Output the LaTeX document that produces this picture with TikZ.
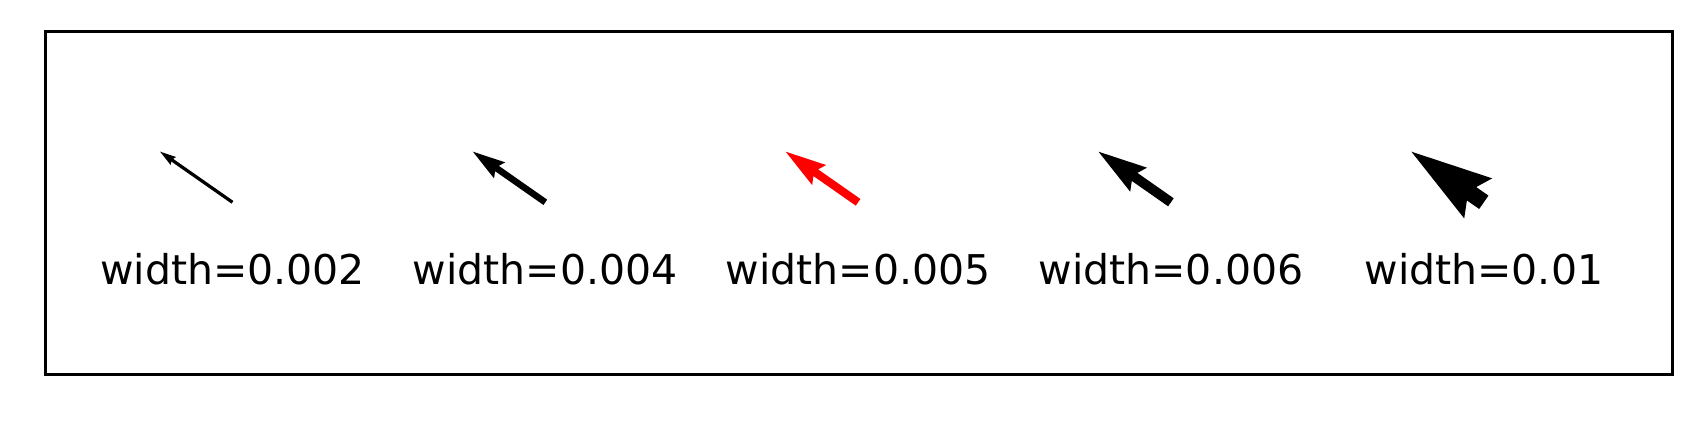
\documentclass[tikz,border=0pt]{standalone}
\usepackage{fontspec}
\setmainfont{DejaVu Sans}
\begin{document}
\begin{tikzpicture}[x=0.5pt,y=-0.5pt,
  label/.style={anchor=base,inner sep=0pt,font=\fontsize{20.5}{24}\selectfont},
  frame/.style={draw=black,line width=1.5pt}]
\useasboundingbox (0,0) rectangle (1702,421);
\fill[white] (0,0) rectangle (1702,421);
\draw[frame] (45.5,31.5) rectangle (1672,375);
% quiver arrow: #1 tail x, #2 shaft width px, #3 colour, #4 name
\newcommand{\qarrow}[4]{%
  \coordinate (#4) at (#1,202.3);
  \begin{scope}[shift={(#4)},x={(-0.40985pt,0.28645pt)},y={(0.28645pt,0.40985pt)}]
    \pgfmathsetmacro{\hw}{#2/2}
    \pgfmathsetmacro{\sa}{88.3-4.5*#2}
    \pgfmathsetmacro{\hb}{88.3-5*#2}
    \pgfmathsetmacro{\hh}{1.5*#2}
    \fill[#3] (0,\hw) -- (\sa,\hw) -- (\hb,\hh) -- (88.3,0) -- (\hb,-\hh) -- (\sa,-\hw) -- (0,-\hw) -- cycle;
  \end{scope}}
\qarrow{232.5}{3.26}{black}{a1}
\qarrow{545.3}{6.52}{black}{a2}
\qarrow{858.1}{8.15}{red}{a3}
\qarrow{1170.9}{9.78}{black}{a4}
\qarrow{1483.8}{16.3}{black}{a5}
\node[label] (l1) at (232.5,285) {width=0.002};
\node[label] (l2) at (545.3,285) {width=0.004};
\node[label] (l3) at (858.1,285) {width=0.005};
\node[label] (l4) at (1170.9,285) {width=0.006};
\node[label] (l5) at (1483.8,285) {width=0.01};
\end{tikzpicture}
\end{document}
